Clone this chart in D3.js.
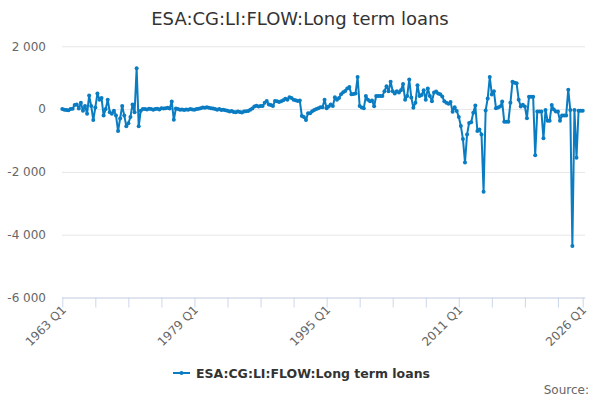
<!DOCTYPE html>
<html>
<head>
<meta charset="utf-8">
<script src="https://cdn.jsdelivr.net/npm/d3@7"></script>
<style>
  html, body { margin: 0; padding: 0; background: #fff; }
  svg { display: block; font-family: "DejaVu Sans", sans-serif; }
</style>
</head>
<body>
<svg id="chart" width="600" height="400"></svg>
<script>
const title = "ESA:CG:LI:FLOW:Long term loans";
const seriesName = "ESA:CG:LI:FLOW:Long term loans";
const startYear = 1963;
const values = [
  0, -20, -30, -40, 0, 10, 130, 150, 20, 200,
  -50, 100, -150, 430, 100, -350, 50, 500, 300, 350,
  -200, 0, 300, -100, -150, -50, -200, -700, -300, 100,
  -200, -550, -450, -250, 150, -100, 1300, -550, -50, 0,
  0, -10, 10, 0, -20, 0, 10, -10, 30, 20,
  30, 40, 20, 240, -340, 20, 0, -20, -10, -30,
  -10, -20, 0, -10, -20, 0, 10, 30, 50, 40,
  60, 40, 30, 20, 0, -20, 0, -30, -20, -40,
  -50, -80, -60, -90, -100, -80, -90, -110, -80, -70,
  -60, -20, 20, 80, 110, 80, 100, 95, 200, 255,
  150, 130, 100, 255, 250, 230, 250, 280, 330, 300,
  380, 350, 300, 280, 255, 270, -220, -250, -350, -130,
  -130, -65, -30, 0, 30, 60, 60, 300, 30, 80,
  150, 100, 380, 300, 350, 470, 540, 580, 660, 700,
  470, 480, 500, 1020, 95, 50, 30, 415, 300, 250,
  270, 90, 415, 420, 415, 415, 570, 730, 570, 870,
  570, 500, 570, 530, 600, 800, 300, 415, 940, 370,
  45, 200, 760, 415, 450, 600, 300, 660, 415, 250,
  530, 560, 500, 470, 400, 250, 200, 170, 230, -85,
  60, -60, -250, -540, -950, -1700, -810, -440, -420, -120,
  115, -700, -650, -810, -2630, -45, 340, 1020, 465, 570,
  30, 50, 80, 240, -400, -400, -400, 200, 870, 840,
  820, 300, 80, 140, 80, -290, 390, 390, 390, -1470,
  -80, -80, -80, -930, -30, -370, -370, 130, -15, -80,
  -80, -370, -200, -200, -200, 620, -30, -4360, -30, -1550,
  -50, -50, -50
];
const categories = values.map((v, i) => `${startYear + Math.floor(i / 4)} Q${(i % 4) + 1}`);
const tickLabels = ["1963 Q1", "1979 Q1", "1995 Q1", "2011 Q1", "2026 Q1"];
const yTicks = [-6000, -4000, -2000, 0, 2000];

const color = "#0a7cc2";
const svg = d3.select("#chart");

const x = d3.scalePoint().domain(categories).range([62.3, 582.7]);
const y = d3.scaleLinear().domain([-6000, 2000]).range([297.5, 46.3]);

const fmt = v => (v < 0 ? "-" : "") + d3.format(",")(Math.abs(v)).replace(/,/g, " ");

// title
svg.append("text").attr("x", 300).attr("y", 25).attr("text-anchor", "middle")
  .attr("font-size", 18).attr("fill", "#333").text(title);

// grid + y labels
const yAxis = d3.axisLeft(y).tickValues(yTicks).tickFormat(fmt).tickSize(-523).tickPadding(16);
const gy = svg.append("g").attr("transform", "translate(62,0)").call(yAxis);
gy.select(".domain").remove();
gy.selectAll(".tick line").attr("stroke", "#e6e6e6").attr("stroke-width", 1);
gy.selectAll(".tick text").attr("fill", "#666").attr("font-size", 12)
  .attr("font-family", "DejaVu Sans, sans-serif");

// x axis
const tickCats = categories.filter((c, i) => i % 16 === 0 || i === categories.length - 1);
const xAxis = d3.axisBottom(x).tickValues(tickCats)
  .tickFormat(c => tickLabels.includes(c) ? c : "").tickSize(10).tickSizeOuter(0);
const gx = svg.append("g").attr("transform", "translate(0,297.5)").call(xAxis);
gx.select(".domain").attr("stroke", "#ccd6eb").attr("d", "M62,0.5H585.5");
gx.selectAll(".tick line").attr("stroke", "#ccd6eb");
gx.selectAll(".tick text")
  .attr("fill", "#666").attr("font-size", 12).attr("font-family", "DejaVu Sans, sans-serif")
  .attr("text-anchor", "end").attr("dy", null).attr("x", 4).attr("y", 13)
  .attr("transform", "rotate(-45 4 13)");

// line
const line = d3.line().x((d, i) => x(categories[i])).y(d => y(d));
svg.append("path").datum(values).attr("d", line)
  .attr("fill", "none").attr("stroke", color).attr("stroke-width", 2)
  .attr("stroke-linejoin", "round");
svg.append("g").selectAll("circle").data(values).join("circle")
  .attr("cx", (d, i) => x(categories[i])).attr("cy", d => y(d)).attr("r", 2)
  .attr("fill", color);

// legend
const lg = svg.append("g").attr("transform", "translate(0,373)");
lg.append("line").attr("x1", 173).attr("x2", 190).attr("y1", 0).attr("y2", 0)
  .attr("stroke", color).attr("stroke-width", 2);
lg.append("circle").attr("cx", 181.5).attr("cy", 0).attr("r", 2).attr("fill", color);
lg.append("text").attr("x", 196).attr("y", 5).attr("font-size", 12.5).attr("font-weight", "bold")
  .attr("fill", "#333").text(seriesName);

// source
svg.append("text").attr("x", 589).attr("y", 394).attr("text-anchor", "end")
  .attr("font-size", 12).attr("fill", "#666").text("Source:");
</script>
</body>
</html>
